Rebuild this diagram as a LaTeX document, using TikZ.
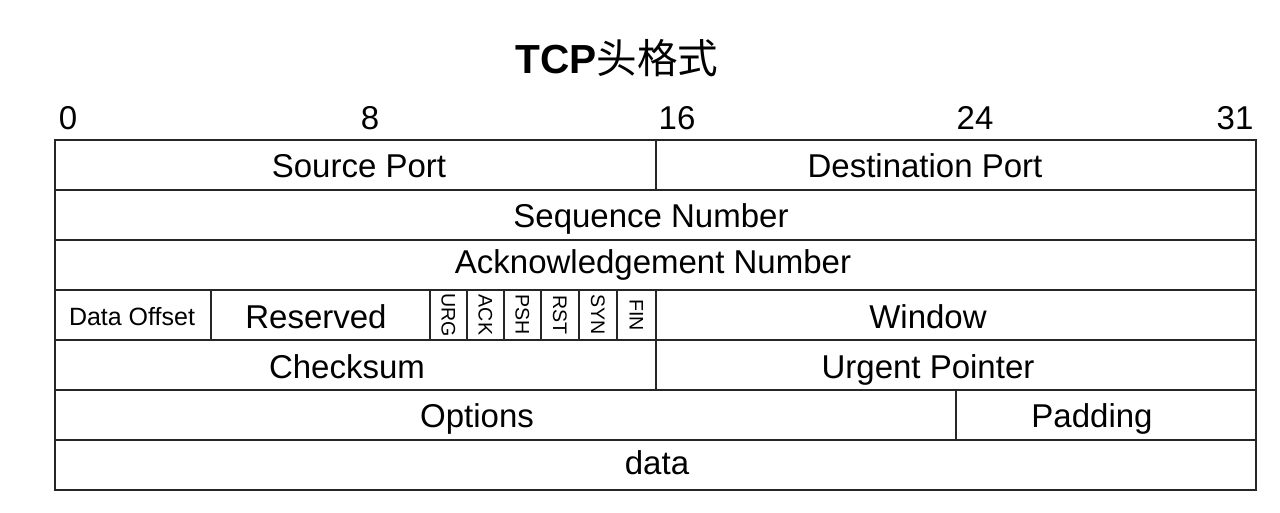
\documentclass[tikz,border=0pt]{standalone}
\usepackage{fontspec}
\setmainfont{Liberation Sans}
\newfontfamily\cjk{Noto Sans CJK SC}
\usetikzlibrary{positioning}

\begin{document}
\begin{tikzpicture}[x=0.5pt,y=-0.5pt,line width=0.8pt,
  lbl/.style={font=\fontsize{16.5}{19}\selectfont,inner sep=0pt,text height=11.8pt,text depth=0pt},
  small/.style={font=\fontsize{12.5}{14}\selectfont,inner sep=0pt,text height=9pt,text depth=0pt},
  flag/.style={font=\fontsize{9.8}{11}\selectfont,inner sep=0pt,text height=7pt,text depth=0pt,rotate=-90}]
\useasboundingbox (0,0) rectangle (1280,513);
\node (title) at (617,58) {\fontsize{20.3}{24}\selectfont\textbf{TCP}\cjk 头格式};
% bit numbers
\foreach \b/\p in {0/68,8/370,16/677,24/975,31/1235}
  \node[lbl] (bit\b) at (\p,118) {\b};
% frame and rows
\draw[draw=black!85] (55,140) rectangle (1256,490);
\foreach \y in {190,240,290,340,390,440}
  \draw[draw=black!85] (55,\y) -- (1256,\y);
\draw[draw=black!85] (656,140) -- (656,190);
\draw[draw=black!85] (211,290) -- (211,340);
\foreach \x in {430,467,504,541,579,617}
  \draw[draw=black!85] (\x,290) -- (\x,340);
\draw[draw=black!85] (656,290) -- (656,390);
\draw[draw=black!85] (956,390) -- (956,440);
% fields
\node[lbl] (srcport) at (359,166) {Source Port};
\node[lbl] (dstport) at (925,166) {Destination Port};
\node[lbl] (seqnum) at (651,216) {Sequence Number};
\node[lbl] (acknum) at (653,262) {Acknowledgement Number};
\node[small] (offset) at (132,317) {Data Offset};
\node[lbl] (reserved) at (316,317) {Reserved};
\foreach \f/\x in {URG/448.5,ACK/485.5,PSH/522.5,RST/560,SYN/598,FIN/636.5}
  \node[flag] (\f) at (\x,315) {\f};
\node[lbl] (window) at (928,317) {Window};
\node[lbl] (checksum) at (347,367) {Checksum};
\node[lbl] (urgent) at (928,367) {Urgent Pointer};
\node[lbl] (options) at (477,416) {Options};
\node[lbl] (padding) at (1092,416) {Padding};
\node[lbl] (data) at (657,463) {data};
\end{tikzpicture}
\end{document}
